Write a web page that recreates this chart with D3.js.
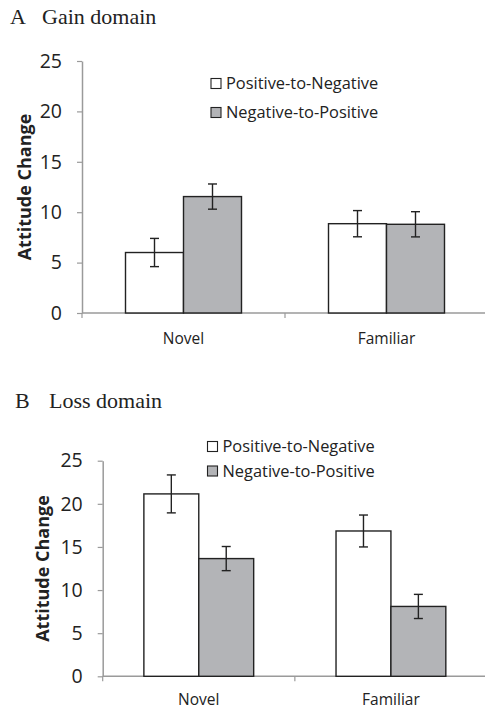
<!DOCTYPE html>
<html>
<head>
<meta charset="utf-8">
<script src="https://cdn.jsdelivr.net/npm/d3@7"></script>
<style>
  body { margin: 0; background: #fff; }
  svg { display: block; }
</style>
</head>
<body>
<script>
// data
var categories = ["Novel", "Familiar"]
var series = ["Positive-to-Negative", "Negative-to-Positive"]
var seriesFill = ["#ffffff", "#b3b4b7"]
var yTicks = [0, 5, 10, 15, 20, 25]

// gain domain: means and error (+/-)
var gainMeans = [[6.0, 11.55], [8.86, 8.8]]
var gainErr = [[1.4, 1.25], [1.3, 1.25]]
// loss domain
var lossMeans = [[21.15, 13.65], [16.85, 8.1]]
var lossErr = [[2.2, 1.4], [1.85, 1.4]]

var width = 485, height = 711

var svg = d3.select("body").append("svg")
    .attr("width", width)
    .attr("height", height)

function panel(opt) {
  var g = svg.append("g")

  // title
  var t = g.append("text")
      .attr("y", opt.titleY)
      .attr("font-family", "'Liberation Serif', 'Times New Roman', serif")
      .attr("font-size", 22)
      .attr("fill", "#222")
  t.append("tspan").attr("x", opt.letterX).text(opt.letter)
  t.append("tspan").attr("x", opt.titleX).text(opt.title)

  var x0 = d3.scaleBand()
      .domain(categories)
      .range([opt.left, opt.right])
  var x1 = d3.scaleBand()
      .domain(series)
      .range([0, x0.bandwidth()])
      .paddingOuter(0.75)
  var y = d3.scaleLinear()
      .domain([0, 25])
      .range([opt.bottom, opt.top])

  // y axis
  var ya = g.append("g")
      .attr("transform", "translate(" + opt.left + ",0)")
      .call(d3.axisLeft(y).tickValues(yTicks).tickSize(5).tickSizeOuter(0).tickPadding(15))
  ya.select(".domain").attr("stroke", "#9a9a9a").attr("stroke-width", 1.5)
  ya.selectAll(".tick line").attr("stroke", "#9a9a9a").attr("stroke-width", 1.2)
  ya.selectAll(".tick text")
      .attr("font-family", "'Open Sans', sans-serif")
      .attr("font-size", 19.5)
      .attr("fill", "#222")

  // x axis (ticks at band edges)
  var xa = g.append("g").attr("transform", "translate(0," + opt.bottom + ")")
  xa.append("line")
      .attr("x1", opt.left).attr("x2", opt.right)
      .attr("stroke", "#9a9a9a").attr("stroke-width", 1.5)
  xa.selectAll("line.tk")
      .data(categories.concat(["end"]))
      .enter().append("line")
      .attr("class", "tk")
      .attr("x1", function(d, i) { return opt.left + i * x0.step() })
      .attr("x2", function(d, i) { return opt.left + i * x0.step() })
      .attr("y1", 0).attr("y2", 5)
      .attr("stroke", "#9a9a9a").attr("stroke-width", 1.2)
  xa.selectAll("text")
      .data(categories)
      .enter().append("text")
      .attr("x", function(d) { return x0(d) + x0.bandwidth() / 2 })
      .attr("y", opt.labelDy)
      .attr("text-anchor", "middle")
      .attr("font-family", "'Open Sans', sans-serif")
      .attr("font-size", 15.5)
      .attr("fill", "#222")
      .text(function(d) { return d })

  // y title
  g.append("text")
      .attr("transform", "translate(" + opt.yTitleX + "," + ((opt.top + opt.bottom) / 2 + opt.yTitleShift) + ") rotate(-90)")
      .attr("text-anchor", "middle")
      .attr("font-family", "'Open Sans', sans-serif")
      .attr("font-weight", "bold")
      .attr("font-size", 18)
      .attr("fill", "#222")
      .text("Attitude Change")

  // bars
  var groups = g.selectAll("g.cat")
      .data(categories)
      .enter().append("g")
      .attr("class", "cat")
      .attr("transform", function(d) { return "translate(" + x0(d) + ",0)" })

  groups.selectAll("rect")
      .data(function(d, i) {
        return series.map(function(s, j) {
          return { s: s, j: j, v: opt.means[i][j], e: opt.err[i][j] }
        })
      })
      .enter().append("rect")
      .attr("x", function(d) { return x1(d.s) })
      .attr("y", function(d) { return y(d.v) })
      .attr("width", x1.bandwidth())
      .attr("height", function(d) { return y(0) - y(d.v) })
      .attr("fill", function(d) { return seriesFill[d.j] })
      .attr("stroke", "#222")
      .attr("stroke-width", 1.4)

  // error bars
  var eb = groups.selectAll("g.err")
      .data(function(d, i) {
        return series.map(function(s, j) {
          return { s: s, v: opt.means[i][j], e: opt.err[i][j] }
        })
      })
      .enter().append("g")
      .attr("class", "err")
      .attr("stroke", "#222")
      .attr("stroke-width", 1.4)
  eb.append("line")
      .attr("x1", function(d) { return x1(d.s) + x1.bandwidth() / 2 })
      .attr("x2", function(d) { return x1(d.s) + x1.bandwidth() / 2 })
      .attr("y1", function(d) { return y(d.v + d.e) })
      .attr("y2", function(d) { return y(d.v - d.e) })
  ;["+", "-"].forEach(function(sign) {
    eb.append("line")
        .attr("x1", function(d) { return x1(d.s) + x1.bandwidth() / 2 - 4.5 })
        .attr("x2", function(d) { return x1(d.s) + x1.bandwidth() / 2 + 4.5 })
        .attr("y1", function(d) { return y(sign == "+" ? d.v + d.e : d.v - d.e) })
        .attr("y2", function(d) { return y(sign == "+" ? d.v + d.e : d.v - d.e) })
  })

  // legend
  var lg = g.selectAll("g.leg")
      .data(series)
      .enter().append("g")
      .attr("class", "leg")
      .attr("transform", function(d, i) { return "translate(" + opt.legX + "," + (opt.legY + i * opt.legStep) + ")" })
  lg.append("rect")
      .attr("x", 0).attr("y", -10.5)
      .attr("width", 10).attr("height", 10)
      .attr("fill", function(d, i) { return seriesFill[i] })
      .attr("stroke", "#222")
      .attr("stroke-width", 1.1)
  lg.append("text")
      .attr("x", 15)
      .attr("y", 0)
      .attr("font-family", "'Open Sans', sans-serif")
      .attr("font-size", 16.4)
      .attr("fill", "#222")
      .text(function(d) { return d })
}

panel({
  letter: "A", title: "Gain domain", letterX: 10, titleX: 42, titleY: 24,
  left: 82, right: 488, top: 61, bottom: 313, labelDy: 31,
  yTitleX: 31, yTitleShift: 0,
  means: gainMeans, err: gainErr,
  legX: 211, legY: 89, legStep: 29
})

panel({
  letter: "B", title: "Loss domain", letterX: 15, titleX: 49, titleY: 408,
  left: 102.7, right: 487, top: 460.7, bottom: 676.3, labelDy: 29,
  yTitleX: 49, yTitleShift: 0,
  means: lossMeans, err: lossErr,
  legX: 207.5, legY: 452, legStep: 24.5
})
</script>
</body>
</html>
